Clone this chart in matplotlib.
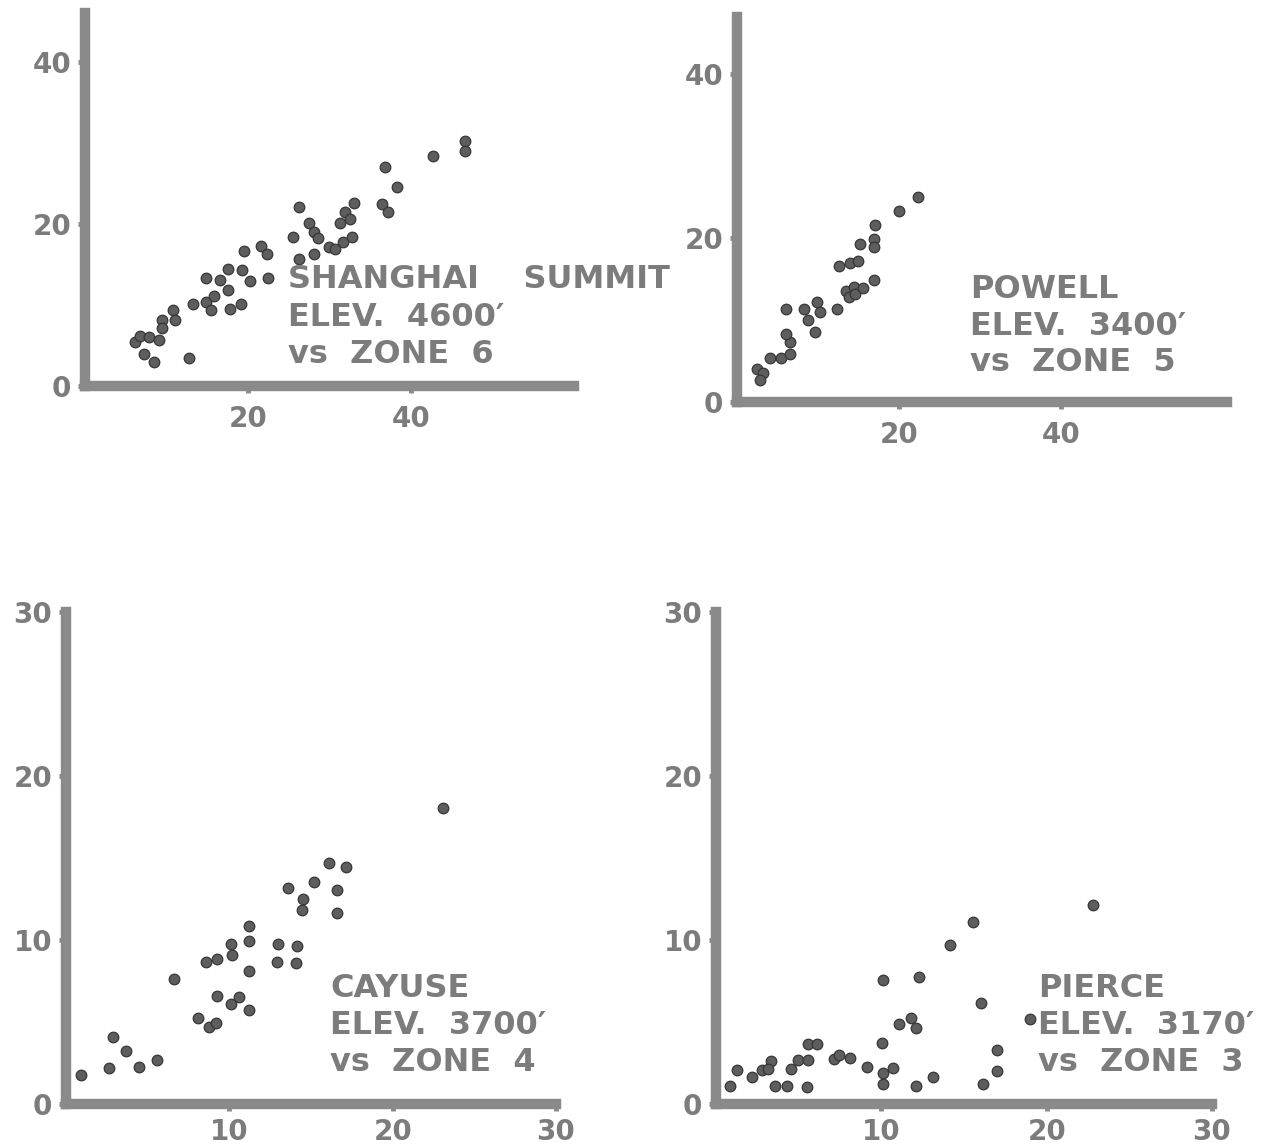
import matplotlib
matplotlib.use("Agg")
import matplotlib.pyplot as plt

# ---------------- data ----------------
shanghai_x = [6.1, 6.7, 7.8, 9.1, 7.2, 8.5, 9.5, 9.5, 10.8, 11.0, 12.7, 13.2, 14.8, 15.8, 15.4,
              14.9, 16.6, 17.5, 17.6, 17.8, 19.1, 19.3, 19.5, 20.2, 21.6, 22.3, 22.4, 25.5, 26.3,
              26.2, 27.5, 28.1, 28.6, 28.1, 29.9, 30.7, 31.6, 32.8, 31.3, 31.9, 32.5, 33.0, 36.4,
              37.2, 36.8, 38.3, 42.7, 46.6, 46.6]
shanghai_y = [5.4, 6.2, 6.0, 5.7, 3.9, 3.0, 8.2, 7.2, 9.4, 8.2, 3.5, 10.1, 10.3, 11.1, 9.4,
              13.3, 13.1, 14.4, 11.8, 9.5, 10.1, 14.3, 16.7, 12.9, 17.3, 16.3, 13.3, 18.4, 22.1,
              15.7, 20.1, 19.0, 18.3, 16.3, 17.2, 16.9, 17.7, 18.4, 20.1, 21.4, 20.6, 22.6, 22.4,
              21.4, 27.0, 24.5, 28.4, 30.2, 29.0]

powell_x = [2.5, 3.2, 2.8, 4.1, 5.4, 6.6, 6.6, 6.0, 6.0, 8.3, 8.8, 9.6, 9.9, 10.3, 12.4,
            12.6, 13.9, 15.0, 13.5, 13.8, 14.4, 14.6, 15.5, 16.9, 15.2, 16.9, 16.9, 17.1, 20.0, 22.4]
powell_y = [4.0, 3.5, 2.7, 5.4, 5.4, 5.8, 7.3, 8.3, 11.4, 11.4, 10.0, 8.5, 12.2, 11.0, 11.4,
            16.6, 17.0, 17.2, 13.6, 12.8, 14.0, 13.2, 13.9, 14.9, 19.3, 19.9, 18.9, 21.6, 23.3, 25.0]

cayuse_x = [0.9, 2.65, 2.9, 3.67, 4.45, 5.6, 6.63, 8.1, 8.76, 9.17, 9.23, 10.09, 10.6, 11.2,
            11.2, 8.55, 9.23, 10.15, 10.1, 11.2, 11.2, 13.0, 14.13, 12.9, 14.07, 13.6, 14.5,
            14.43, 15.2, 16.1, 17.15, 16.6, 16.6, 23.1]
cayuse_y = [1.77, 2.18, 4.1, 3.25, 2.27, 2.68, 7.6, 5.23, 4.68, 4.96, 6.59, 6.1, 6.5, 5.73,
            8.13, 8.68, 8.82, 9.09, 9.76, 9.96, 10.85, 9.74, 9.65, 8.66, 8.62, 13.15, 12.5,
            11.83, 13.55, 14.68, 14.47, 13.05, 11.66, 18.05]

pierce_x = [0.85, 1.25, 2.16, 2.76, 3.3, 3.16, 3.57, 4.28, 4.52, 4.98, 5.58, 5.58, 6.13, 5.52,
            7.14, 7.46, 8.1, 9.12, 10.02, 10.08, 10.08, 10.69, 10.08, 11.09, 11.78, 12.1, 12.1,
            12.3, 13.1, 14.16, 15.57, 16.0, 16.13, 16.98, 16.98, 19.0, 22.8]
pierce_y = [1.1, 2.1, 1.66, 2.07, 2.64, 2.12, 1.1, 1.1, 2.12, 2.68, 2.68, 3.66, 3.66, 1.05,
            2.73, 2.99, 2.79, 2.24, 3.74, 1.91, 1.22, 2.18, 7.56, 4.86, 5.23, 4.62, 1.1,
            7.73, 1.66, 9.7, 11.1, 6.18, 1.22, 3.29, 2.03, 5.16, 12.13]

labels = [
    ["SHANGHAI    SUMMIT", "ELEV.  4600\u2032", "vs  ZONE  6"],
    ["POWELL", "ELEV.  3400\u2032", "vs  ZONE  5"],
    ["CAYUSE", "ELEV.  3700\u2032", "vs  ZONE  4"],
    ["PIERCE", "ELEV.  3170\u2032", "vs  ZONE  3"],
]

xticks_top = [20, 40]
yticks_top = [0, 20, 40]
xticks_bot = [10, 20, 30]
yticks_bot = [0, 10, 20, 30]

# ---------------- layout ----------------
W, H = 1270, 1148
fig = plt.figure(figsize=(W / 100, H / 100), dpi=100)
fig.patch.set_facecolor("white")

AX_COL = "#8a8a8a"
TXT_COL = "#7c7c7c"
DOT_FACE = "#5e5e5e"
DOT_EDGE = "#363636"


def make_ax(L, R, T, B):
    return fig.add_axes([L / W, 1 - B / H, (R - L) / W, (B - T) / H])


def style(ax, xlim, ylim, xticks, yticks, xpad):
    ax.set_xlim(*xlim)
    ax.set_ylim(*ylim)
    for s in ["top", "right"]:
        ax.spines[s].set_visible(False)
    for s in ["left", "bottom"]:
        ax.spines[s].set_linewidth(7.5)
        ax.spines[s].set_color(AX_COL)
        ax.spines[s].set_capstyle("projecting")
    ax.set_xticks(xticks)
    ax.set_yticks(yticks)
    ax.set_xticklabels([str(v) for v in xticks])
    ax.set_yticklabels([str(v) for v in yticks])
    ax.tick_params(axis="both", colors=AX_COL, width=3.5, length=5, direction="out",
                   labelsize=20, labelcolor=TXT_COL)
    ax.tick_params(axis="x", pad=xpad)
    ax.tick_params(axis="y", pad=5)
    for lab in ax.get_xticklabels() + ax.get_yticklabels():
        lab.set_fontweight("bold")
        lab.set_family("DejaVu Sans")
    ax.patch.set_alpha(0)


def dots(ax, x, y):
    ax.scatter(x, y, s=58, c=DOT_FACE, edgecolors=DOT_EDGE, linewidths=0.9, zorder=3,
               clip_on=False)


def label(lines, left, baselines):
    for txt, b in zip(lines, baselines):
        fig.text(left / W, 1 - b / H, txt, ha="left", va="baseline", fontsize=23,
                 fontweight="bold", color=TXT_COL, family="DejaVu Sans")


ax1 = make_ax(85, 574, 13, 386)
style(ax1, (0, 60), (0, 46), xticks_top, yticks_top, 9)
dots(ax1, shanghai_x, shanghai_y)
label(labels[0], 288, [288, 326, 363])

ax2 = make_ax(737, 1227, 17, 402)
style(ax2, (0, 60.5), (0, 47), xticks_top, yticks_top, 9)
dots(ax2, powell_x, powell_y)
label(labels[1], 970, [298, 335, 371])

ax3 = make_ax(66, 556, 612, 1104)
style(ax3, (0, 30), (0, 30), xticks_bot, yticks_bot, 5)
dots(ax3, cayuse_x, cayuse_y)
label(labels[2], 330, [997, 1034, 1071])

ax4 = make_ax(716, 1212, 612, 1104)
style(ax4, (0, 30), (0, 30), xticks_bot, yticks_bot, 5)
dots(ax4, pierce_x, pierce_y)
label(labels[3], 1038, [997, 1034, 1071])

fig.savefig("out.png", dpi=100, facecolor="white")
